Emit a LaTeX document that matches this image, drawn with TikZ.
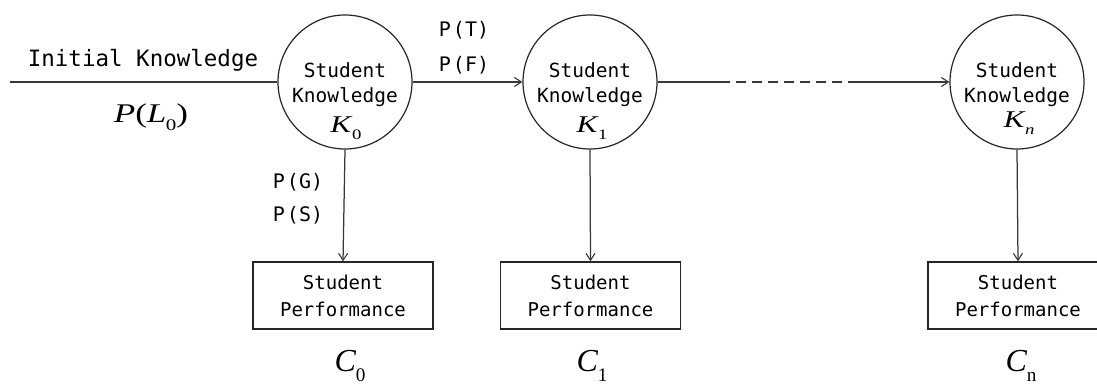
\documentclass[tikz,border=0pt]{standalone}
\usepackage{fontspec}
\setmainfont{Liberation Serif}
\newfontfamily\labelmono{DejaVu Sans Mono}
\newfontfamily\wideserif[FakeStretch=1.3]{Liberation Serif}
\usetikzlibrary{arrows.meta}
% variable with a subscript, in a Times-like serif
\newcommand{\varsub}[2]{\textit{#1}\kern-0.5pt\raisebox{-0.3em}{\fontsize{0.6em}{1em}\selectfont #2}}
\begin{document}
\begin{tikzpicture}[x=1pt,y=-1pt,
  link/.style={draw=black!78,line width=1.25pt},
  tip/.style={-{Straight Barb[length=7pt,width=9pt,line width=1.1pt]}},
  knowledge/.style={circle,draw=black!85,line width=1.2pt,minimum size=134pt,inner sep=0pt},
  perf/.style={rectangle,draw=black!85,line width=1.3pt,minimum width=180pt,minimum height=67pt,inner sep=0pt,
    align=center,font=\labelmono\fontsize{19pt}{27pt}\selectfont},
  mono/.style={font=\labelmono\fontsize{#1}{1.2\dimexpr#1\relax}\selectfont,inner sep=0pt},
  mathlab/.style={font=\fontsize{#1}{#1}\selectfont,inner sep=0pt},
  widemath/.style={font=\wideserif\fontsize{#1}{#1}\selectfont,inner sep=0pt}]
\useasboundingbox (0,0) rectangle (1097,387);
\clip (0,0) rectangle (1097,387);

% knowledge states
\node[knowledge] (k0) at (345,82) {};
\node[knowledge] (k1) at (590,82) {};
\node[knowledge] (kn) at (1017,82) {};
\foreach \k/\x in {k0/345,k1/590,kn/1017}{
  \node[mono=19.5pt] (\k s) at (\x,70) {Student};
  \node[mono=19.5pt] (\k w) at (\x,97) {Knowledge};
}
\node[widemath=24pt] (k0l) at (346,128) {\varsub{K}{0}};
\node[widemath=24pt] (k1l) at (592,128) {\varsub{K}{1}};
\node[widemath=24pt] (knl) at (1019,123) {\varsub{K}{\textit{n}}};

% performance observations
\node[perf] (c0) at (343,295.5) {Student\\Performance};
\node[perf] (c1) at (590.5,295.5) {Student\\Performance};
\node[perf] (cn) at (1018,295.5) {Student\\Performance};
\node[mathlab=32pt] (c0l) at (350,366) {\varsub{C}{0}};
\node[mathlab=32pt] (c1l) at (592,366) {\varsub{C}{1}};
\node[mathlab=32pt] (cnl) at (1021,366) {\varsub{C}{n}};

% prior
\coordinate (start) at (10,82);
\node[mono=22.5pt] (init) at (143,60) {Initial Knowledge};
\node[widemath=27pt] (pl0) at (151,117) {\textit{P}(\varsub{L}{0})};
\draw[link] (start) -- (k0.west);

% transitions
\draw[link,tip] (k0.east) -- (k1.west);
\node[mono=20pt] (pt) at (464,30) {P\kern2pt(T)};
\node[mono=20pt] (pf) at (464,65) {P\kern2pt(F)};
\coordinate (d1) at (720,82);
\coordinate (d2) at (848,82);
\draw[link] (k1.east) -- (d1);
\draw[link,dash pattern=on 10pt off 6pt] (d1) -- (d2);
\draw[link,tip] (d2) -- (kn.west);

% emissions
\draw[link,tip] (k0.south) -- (c0.north);
\draw[link,tip] (k1.south) -- (c1.north);
\draw[link,tip] (kn.south) -- (cn.north);
\node[mono=20pt] (pg) at (298,182) {P\kern2pt(G)};
\node[mono=20pt] (ps) at (298,215) {P\kern2pt(S)};
\end{tikzpicture}
\end{document}
